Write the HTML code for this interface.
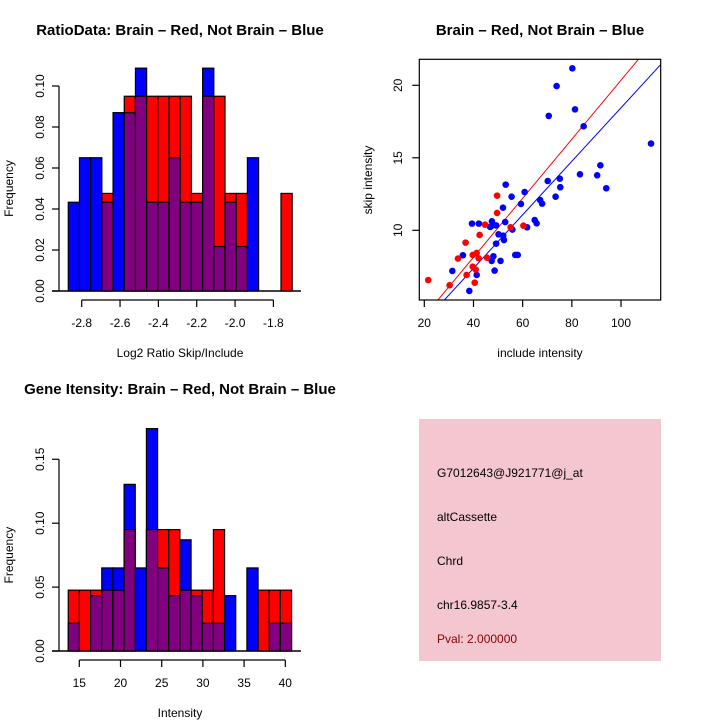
<!DOCTYPE html>
<html><head><meta charset="utf-8"><style>
html,body{margin:0;padding:0;background:#fff;}
svg{display:block;font-family:"Liberation Sans",sans-serif;}
</style></head><body>
<svg id="chart" width="720" height="720" viewBox="0 0 720 720">
<rect width="720" height="720" fill="#fff"/>
<g id="p1"></g>
<g id="p2"></g>
<g id="p3"></g>
<g id="p4">
<rect x="419" y="419" width="242" height="242" fill="#f4c6d0"/>
<text x="437" y="477" font-size="12">G7012643@J921771@j_at</text>
<text x="437" y="521" font-size="12">altCassette</text>
<text x="437" y="565" font-size="12">Chrd</text>
<text x="437" y="609" font-size="12">chr16.9857-3.4</text>
<text x="437" y="643" font-size="12" fill="#8b0000">Pval: 2.000000</text>
</g>
</svg>
<script>
// Ratio histogram data
const ratioRed  = [0,0,0,0.0476,0,0.095,0.095,0.095,0.095,0.095,0.095,0.0476,0.095,0.095,0.0476,0.0476,0,0,0,0.0476];
const ratioBlue = [0.0433,0.065,0.065,0.0433,0.087,0.087,0.1087,0.0433,0.0433,0.065,0.0433,0.0433,0.1087,0.0217,0.0433,0.0217,0.065,0,0,0];
const ratioBinStart = -2.87, ratioBinWidth = 0.0584;
const ratioXTicks = [-2.8,-2.6,-2.4,-2.2,-2.0,-1.8];
const ratioXLabels = ["-2.8","-2.6","-2.4","-2.2","-2.0","-1.8"];
const ratioYTicks = [0,0.02,0.04,0.06,0.08,0.10];
const ratioYLabels = ["0.00","0.02","0.04","0.06","0.08","0.10"];
// Intensity histogram data
const intRed  = [0.0476,0.0476,0.0476,0.0476,0.0476,0.095,0,0.095,0.095,0.095,0.0476,0.0476,0.0476,0.095,0,0,0,0.0476,0.0476,0.0476];
const intBlue = [0.0217,0,0.0433,0.065,0.065,0.1304,0.065,0.174,0.065,0.0433,0.087,0.0433,0.0217,0.0217,0.0433,0,0.065,0,0.0217,0.0217];
const intBinStart = 13.66, intBinWidth = 1.355;
const intXTicks = [15,20,25,30,35,40];
const intYTicks = [0,0.05,0.10,0.15];
const intYLabels = ["0.00","0.05","0.10","0.15"];
// Scatter data
const blueX = [80.2,73.8,81.3,70.6,84.8,112.2,91.6,83.3,90.3,94.0,75.1,70.2,75.3,73.4,53.1,60.8,55.5,59.3,67.1,67.9,52.0,52.9,47.5,47.7,49.2,46.8,39.4,42.2,64.9,65.7,61.8,55.8,50.2,52.1,52.4,49.2,35.7,48.1,47.4,51.0,57.0,58.0,48.6,31.4,41.3,38.3];
const blueY = [21.17,19.95,18.34,17.89,17.17,15.98,14.48,13.86,13.79,12.9,13.56,13.4,12.97,12.32,13.15,12.64,12.32,11.82,12.09,11.84,11.56,10.57,10.62,10.34,10.34,10.23,10.46,10.46,10.71,10.48,10.21,10.05,9.72,9.63,9.33,9.08,8.28,8.21,7.89,7.89,8.3,8.3,7.22,7.2,6.92,5.82];
const redX = [21.6,30.3,37.2,40.5,40.9,39.7,33.7,39.7,41.3,42.1,45.5,36.8,42.5,44.7,49.6,49.6,55.1,60.3];
const redY = [6.57,6.21,6.92,6.39,7.29,7.49,8.05,8.3,8.44,8.07,8.11,9.15,9.68,10.39,12.39,11.2,10.21,10.32];
const redSlope = 0.2035, blueSlope = 0.1845;
const scXTicks = [20,40,60,80,100];
const scYTicks = [10,15,20];

const NS = "http://www.w3.org/2000/svg";
function mk(parent, tag, attrs){ const e=document.createElementNS(NS,tag); for(const k in attrs) e.setAttribute(k,attrs[k]); parent.appendChild(e); return e; }
function txt(parent, x, y, s, size, extra){ const t=mk(parent,'text',Object.assign({x:x,y:y,'font-size':size,'text-anchor':'middle'},extra||{})); t.textContent=s; return t; }

function hist(g, red, blue, binStart, binW, xs, ys, xTicks, xLabels, yTicks, yLabels, axisY, title, titleX, titleY, xlab, xlabY){
  const y0 = ys(0);
  mk(g,'line',{x1:52,y1:y0,x2:301,y2:y0,stroke:'#000','stroke-width':1.5});
  for(let i=0;i<red.length;i++){
    const xl=xs(binStart+i*binW), xr=xs(binStart+(i+1)*binW);
    const r=red[i], b=blue[i], mx=Math.max(r,b), mn=Math.min(r,b);
    if(mx>0){
      const bar=mk(g,'rect',{x:xl,y:ys(mx),width:xr-xl,height:y0-ys(mx),fill:(b>=r?'#0000ff':'#ff0000'),stroke:'#000','stroke-width':1.2});
      
      
    }
    if(mn>0){
      const ov=mk(g,'rect',{x:xl,y:ys(mn),width:xr-xl,height:y0-ys(mn),fill:'#800080',stroke:'#000','stroke-width':1.2});
      
      
    }
  }
  const xa=mk(g,'g',{});
  
  
  mk(xa,'line',{x1:xs(xTicks[0]),y1:axisY,x2:xs(xTicks[xTicks.length-1]),y2:axisY,stroke:'#000','stroke-width':1.2});
  xTicks.forEach((v,i)=>{ mk(xa,'line',{x1:xs(v),y1:axisY,x2:xs(v),y2:axisY+7,stroke:'#000','stroke-width':1.2}); txt(xa,xs(v),axisY+27,xLabels[i],12); });
  const ya=mk(g,'g',{});
  
  
  mk(ya,'line',{x1:59,y1:ys(yTicks[0]),x2:59,y2:ys(yTicks[yTicks.length-1]),stroke:'#000','stroke-width':1.2});
  yTicks.forEach((v,i)=>{ mk(ya,'line',{x1:52,y1:ys(v),x2:59,y2:ys(v),stroke:'#000','stroke-width':1.2}); txt(ya,44,ys(v),yLabels[i],12,{transform:'rotate(-90 44 '+ys(v)+')'}); });
  const t=txt(g,titleX,titleY,title,15,{'font-weight':'bold'});
  
  
  const xl=txt(g,180,xlabY,xlab,12);
  
  
  const yc=(ys(yTicks[0])+ys(yTicks[yTicks.length-1]))/2;
  const yl=txt(g,13,yc,'Frequency',12,{transform:'rotate(-90 13 '+yc+')'});
  
  
}

// Panel 1
(function(){
  const xs=v=>81.7+(v+2.8)*191.7;
  const ys=v=>291-v*2050;
  hist(document.getElementById('p1'),ratioRed,ratioBlue,ratioBinStart,ratioBinWidth,xs,ys,ratioXTicks,ratioXLabels,ratioYTicks,ratioYLabels,300,'RatioData: Brain \u2013 Red, Not Brain \u2013 Blue',180,35,'Log2 Ratio Skip/Include',357);
})();
// Panel 3
(function(){
  const xs=v=>79.3+(v-15)*8.24;
  const ys=v=>651-v*1278;
  hist(document.getElementById('p3'),intRed,intBlue,intBinStart,intBinWidth,xs,ys,intXTicks,intXTicks.map(String),intYTicks,intYLabels,660,'Gene Itensity: Brain \u2013 Red, Not Brain \u2013 Blue',180,394,'Intensity',717);
})();
// Panel 2 scatter
(function(){
  const g=document.getElementById('p2');
  const xs=v=>424.3+(v-20)*2.459;
  const ys=v=>230.3-(v-10)*14.5;
  const L=419.3,R=660.7,T=59.3,B=300;
  mk(g,'defs',{}).innerHTML='<clipPath id="clip"><rect x="'+L+'" y="'+T+'" width="'+(R-L)+'" height="'+(B-T)+'"/></clipPath>';
  const lines=mk(g,'g',{'clip-path':'url(#clip)'});
  const x0=10,x1=130;
  const rl=mk(lines,'line',{x1:xs(x0),y1:ys(redSlope*x0),x2:xs(x1),y2:ys(redSlope*x1),stroke:'#ff0000','stroke-width':1});
  
  
  const bl=mk(lines,'line',{x1:xs(x0),y1:ys(blueSlope*x0),x2:xs(x1),y2:ys(blueSlope*x1),stroke:'#0000ff','stroke-width':1});
  
  
  blueX.forEach((v,i)=>{ const c=mk(g,'circle',{cx:xs(v),cy:ys(blueY[i]),r:3.3,fill:'#0000ff'});
    
     });
  redX.forEach((v,i)=>{ const c=mk(g,'circle',{cx:xs(v),cy:ys(redY[i]),r:3.3,fill:'#ff0000'});
    
     });
  const box=mk(g,'rect',{x:L,y:T,width:R-L,height:B-T,fill:'none',stroke:'#000','stroke-width':1.2});
  
  
  scXTicks.forEach(v=>{ mk(g,'line',{x1:xs(v),y1:B,x2:xs(v),y2:B+7,stroke:'#000','stroke-width':1.2}); txt(g,xs(v),B+27,String(v),12); });
  scYTicks.forEach(v=>{ mk(g,'line',{x1:L-7,y1:ys(v),x2:L,y2:ys(v),stroke:'#000','stroke-width':1.2}); txt(g,402,ys(v),String(v),12,{transform:'rotate(-90 402 '+ys(v)+')'}); });
  const t=txt(g,540,35,'Brain \u2013 Red, Not Brain \u2013 Blue',15,{'font-weight':'bold'});
  
  
  const xl=txt(g,540,357,'include intensity',12);
  
  
  const yl=txt(g,372,180,'skip intensity',12,{transform:'rotate(-90 372 180)'});
  
  
})();
</script>
</body></html>
